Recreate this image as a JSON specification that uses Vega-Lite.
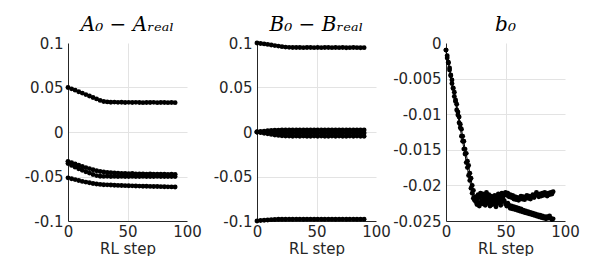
{
"$schema":"https://vega.github.io/schema/vega-lite/v6.json",
"padding":{"left":18,"top":15,"right":0,"bottom":0},
"spacing":70,
"bounds":"flush",
"config":{
 "view":{"stroke":null},
 "axis":{"labelFont":"DejaVu Sans","labelFontSize":15,"labelColor":"#262626","titleFont":"DejaVu Sans","titleFontSize":15,"titleFontWeight":"normal","titleColor":"#262626","domainColor":"#262626","ticks":false,"gridColor":"#e3e3e3","labelOverlap":false,"labelFlush":false,"labelBound":false},
 "axisX":{"labelPadding":3,"titlePadding":2},
 "axisY":{"labelPadding":5,"minExtent":50,"maxExtent":50},
 "title":{"font":"DejaVu Serif","fontStyle":"italic","fontSize":20,"fontWeight":"normal","color":"black","offset":1,"frame":"group","anchor":"middle"}
},
"datasets":{
"A":[
{"k":1,"x":0,"y":0.05},{"k":1,"x":3,"y":0.0485},{"k":1,"x":6,"y":0.047},{"k":1,"x":9,"y":0.0453},{"k":1,"x":12,"y":0.0437},{"k":1,"x":15,"y":0.042},{"k":1,"x":18,"y":0.0405},{"k":1,"x":21,"y":0.0388},{"k":1,"x":24,"y":0.0372},{"k":1,"x":27,"y":0.0355},{"k":1,"x":30,"y":0.0342},{"k":1,"x":33,"y":0.0338},{"k":1,"x":36,"y":0.0335},{"k":1,"x":39,"y":0.0336},{"k":1,"x":42,"y":0.0333},{"k":1,"x":45,"y":0.0334},{"k":1,"x":48,"y":0.0332},{"k":1,"x":51,"y":0.0333},{"k":1,"x":54,"y":0.0331},{"k":1,"x":57,"y":0.0333},{"k":1,"x":60,"y":0.0332},{"k":1,"x":63,"y":0.033},{"k":1,"x":66,"y":0.0332},{"k":1,"x":69,"y":0.0331},{"k":1,"x":72,"y":0.0333},{"k":1,"x":75,"y":0.033},{"k":1,"x":78,"y":0.0331},{"k":1,"x":81,"y":0.0332},{"k":1,"x":84,"y":0.033},{"k":1,"x":87,"y":0.0331},{"k":1,"x":90,"y":0.033},
{"k":2,"x":0,"y":-0.033},{"k":2,"x":3,"y":-0.0345},{"k":2,"x":6,"y":-0.036},{"k":2,"x":9,"y":-0.0373},{"k":2,"x":12,"y":-0.0387},{"k":2,"x":15,"y":-0.04},{"k":2,"x":18,"y":-0.0412},{"k":2,"x":21,"y":-0.0424},{"k":2,"x":24,"y":-0.0435},{"k":2,"x":27,"y":-0.0444},{"k":2,"x":30,"y":-0.045},{"k":2,"x":33,"y":-0.0455},{"k":2,"x":36,"y":-0.0458},{"k":2,"x":39,"y":-0.046},{"k":2,"x":42,"y":-0.0462},{"k":2,"x":45,"y":-0.0465},{"k":2,"x":48,"y":-0.0466},{"k":2,"x":51,"y":-0.0468},{"k":2,"x":54,"y":-0.0467},{"k":2,"x":57,"y":-0.047},{"k":2,"x":60,"y":-0.0471},{"k":2,"x":63,"y":-0.047},{"k":2,"x":66,"y":-0.0473},{"k":2,"x":69,"y":-0.0472},{"k":2,"x":72,"y":-0.0474},{"k":2,"x":75,"y":-0.0473},{"k":2,"x":78,"y":-0.0475},{"k":2,"x":81,"y":-0.0474},{"k":2,"x":84,"y":-0.0476},{"k":2,"x":87,"y":-0.0475},{"k":2,"x":90,"y":-0.0476},
{"k":3,"x":0,"y":-0.0355},{"k":3,"x":3,"y":-0.0375},{"k":3,"x":6,"y":-0.0395},{"k":3,"x":9,"y":-0.0413},{"k":3,"x":12,"y":-0.043},{"k":3,"x":15,"y":-0.0447},{"k":3,"x":18,"y":-0.0462},{"k":3,"x":21,"y":-0.0477},{"k":3,"x":24,"y":-0.049},{"k":3,"x":27,"y":-0.0497},{"k":3,"x":30,"y":-0.0499},{"k":3,"x":33,"y":-0.0498},{"k":3,"x":36,"y":-0.05},{"k":3,"x":39,"y":-0.0499},{"k":3,"x":42,"y":-0.0501},{"k":3,"x":45,"y":-0.0499},{"k":3,"x":48,"y":-0.05},{"k":3,"x":51,"y":-0.0501},{"k":3,"x":54,"y":-0.0499},{"k":3,"x":57,"y":-0.05},{"k":3,"x":60,"y":-0.0501},{"k":3,"x":63,"y":-0.0499},{"k":3,"x":66,"y":-0.05},{"k":3,"x":69,"y":-0.0501},{"k":3,"x":72,"y":-0.05},{"k":3,"x":75,"y":-0.0499},{"k":3,"x":78,"y":-0.0501},{"k":3,"x":81,"y":-0.05},{"k":3,"x":84,"y":-0.0501},{"k":3,"x":87,"y":-0.05},{"k":3,"x":90,"y":-0.0501},
{"k":4,"x":0,"y":-0.0515},{"k":4,"x":3,"y":-0.0525},{"k":4,"x":6,"y":-0.0535},{"k":4,"x":9,"y":-0.0545},{"k":4,"x":12,"y":-0.0555},{"k":4,"x":15,"y":-0.0563},{"k":4,"x":18,"y":-0.057},{"k":4,"x":21,"y":-0.0578},{"k":4,"x":24,"y":-0.0585},{"k":4,"x":27,"y":-0.0589},{"k":4,"x":30,"y":-0.0592},{"k":4,"x":33,"y":-0.0594},{"k":4,"x":36,"y":-0.0596},{"k":4,"x":39,"y":-0.0598},{"k":4,"x":42,"y":-0.06},{"k":4,"x":45,"y":-0.0601},{"k":4,"x":48,"y":-0.0603},{"k":4,"x":51,"y":-0.0604},{"k":4,"x":54,"y":-0.0605},{"k":4,"x":57,"y":-0.0607},{"k":4,"x":60,"y":-0.0608},{"k":4,"x":63,"y":-0.0609},{"k":4,"x":66,"y":-0.061},{"k":4,"x":69,"y":-0.0611},{"k":4,"x":72,"y":-0.0612},{"k":4,"x":75,"y":-0.0613},{"k":4,"x":78,"y":-0.0614},{"k":4,"x":81,"y":-0.0615},{"k":4,"x":84,"y":-0.0616},{"k":4,"x":87,"y":-0.0617},{"k":4,"x":90,"y":-0.0618}
],
"B":[
{"k":1,"x":0,"y":0.1},{"k":1,"x":3,"y":0.0995},{"k":1,"x":6,"y":0.099},{"k":1,"x":9,"y":0.0984},{"k":1,"x":12,"y":0.0978},{"k":1,"x":15,"y":0.0971},{"k":1,"x":18,"y":0.0965},{"k":1,"x":21,"y":0.0959},{"k":1,"x":24,"y":0.0954},{"k":1,"x":27,"y":0.0951},{"k":1,"x":30,"y":0.095},{"k":1,"x":33,"y":0.0949},{"k":1,"x":36,"y":0.095},{"k":1,"x":39,"y":0.0948},{"k":1,"x":42,"y":0.0949},{"k":1,"x":45,"y":0.095},{"k":1,"x":48,"y":0.0948},{"k":1,"x":51,"y":0.0949},{"k":1,"x":54,"y":0.0948},{"k":1,"x":57,"y":0.095},{"k":1,"x":60,"y":0.0949},{"k":1,"x":63,"y":0.0948},{"k":1,"x":66,"y":0.0949},{"k":1,"x":69,"y":0.0948},{"k":1,"x":72,"y":0.0949},{"k":1,"x":75,"y":0.0947},{"k":1,"x":78,"y":0.0948},{"k":1,"x":81,"y":0.0949},{"k":1,"x":84,"y":0.0948},{"k":1,"x":87,"y":0.0947},{"k":1,"x":90,"y":0.0948},
{"k":2,"x":0,"y":0},{"k":2,"x":3,"y":0.0005},{"k":2,"x":6,"y":0.001},{"k":2,"x":9,"y":0.0014},{"k":2,"x":12,"y":0.0017},{"k":2,"x":15,"y":0.002},{"k":2,"x":18,"y":0.0021},{"k":2,"x":21,"y":0.0022},{"k":2,"x":24,"y":0.0022},{"k":2,"x":27,"y":0.0023},{"k":2,"x":30,"y":0.0022},{"k":2,"x":33,"y":0.0022},{"k":2,"x":36,"y":0.0023},{"k":2,"x":39,"y":0.0022},{"k":2,"x":42,"y":0.0023},{"k":2,"x":45,"y":0.0022},{"k":2,"x":48,"y":0.0022},{"k":2,"x":51,"y":0.0023},{"k":2,"x":54,"y":0.0022},{"k":2,"x":57,"y":0.0022},{"k":2,"x":60,"y":0.0023},{"k":2,"x":63,"y":0.0022},{"k":2,"x":66,"y":0.0023},{"k":2,"x":69,"y":0.0022},{"k":2,"x":72,"y":0.0022},{"k":2,"x":75,"y":0.0023},{"k":2,"x":78,"y":0.0022},{"k":2,"x":81,"y":0.0023},{"k":2,"x":84,"y":0.0022},{"k":2,"x":87,"y":0.0022},{"k":2,"x":90,"y":0.0023},
{"k":3,"x":0,"y":0},{"k":3,"x":3,"y":-0.0003},{"k":3,"x":6,"y":-0.0005},{"k":3,"x":9,"y":-0.0007},{"k":3,"x":12,"y":-0.0008},{"k":3,"x":15,"y":-0.0009},{"k":3,"x":18,"y":-0.001},{"k":3,"x":21,"y":-0.001},{"k":3,"x":24,"y":-0.0011},{"k":3,"x":27,"y":-0.001},{"k":3,"x":30,"y":-0.001},{"k":3,"x":33,"y":-0.0011},{"k":3,"x":36,"y":-0.001},{"k":3,"x":39,"y":-0.001},{"k":3,"x":42,"y":-0.0011},{"k":3,"x":45,"y":-0.001},{"k":3,"x":48,"y":-0.001},{"k":3,"x":51,"y":-0.0011},{"k":3,"x":54,"y":-0.001},{"k":3,"x":57,"y":-0.001},{"k":3,"x":60,"y":-0.0011},{"k":3,"x":63,"y":-0.001},{"k":3,"x":66,"y":-0.001},{"k":3,"x":69,"y":-0.0011},{"k":3,"x":72,"y":-0.001},{"k":3,"x":75,"y":-0.001},{"k":3,"x":78,"y":-0.0011},{"k":3,"x":81,"y":-0.001},{"k":3,"x":84,"y":-0.001},{"k":3,"x":87,"y":-0.0011},{"k":3,"x":90,"y":-0.001},
{"k":4,"x":0,"y":0},{"k":4,"x":3,"y":-0.0007},{"k":4,"x":6,"y":-0.0014},{"k":4,"x":9,"y":-0.002},{"k":4,"x":12,"y":-0.0027},{"k":4,"x":15,"y":-0.0033},{"k":4,"x":18,"y":-0.0038},{"k":4,"x":21,"y":-0.0042},{"k":4,"x":24,"y":-0.0045},{"k":4,"x":27,"y":-0.0046},{"k":4,"x":30,"y":-0.0047},{"k":4,"x":33,"y":-0.0046},{"k":4,"x":36,"y":-0.0047},{"k":4,"x":39,"y":-0.0046},{"k":4,"x":42,"y":-0.0047},{"k":4,"x":45,"y":-0.0047},{"k":4,"x":48,"y":-0.0046},{"k":4,"x":51,"y":-0.0047},{"k":4,"x":54,"y":-0.0046},{"k":4,"x":57,"y":-0.0047},{"k":4,"x":60,"y":-0.0047},{"k":4,"x":63,"y":-0.0046},{"k":4,"x":66,"y":-0.0047},{"k":4,"x":69,"y":-0.0046},{"k":4,"x":72,"y":-0.0047},{"k":4,"x":75,"y":-0.0047},{"k":4,"x":78,"y":-0.0046},{"k":4,"x":81,"y":-0.0047},{"k":4,"x":84,"y":-0.0046},{"k":4,"x":87,"y":-0.0047},{"k":4,"x":90,"y":-0.0047},
{"k":5,"x":0,"y":-0.1},{"k":5,"x":3,"y":-0.0995},{"k":5,"x":6,"y":-0.0991},{"k":5,"x":9,"y":-0.0988},{"k":5,"x":12,"y":-0.0985},{"k":5,"x":15,"y":-0.0983},{"k":5,"x":18,"y":-0.0981},{"k":5,"x":21,"y":-0.098},{"k":5,"x":24,"y":-0.098},{"k":5,"x":27,"y":-0.0979},{"k":5,"x":30,"y":-0.098},{"k":5,"x":33,"y":-0.0979},{"k":5,"x":36,"y":-0.0979},{"k":5,"x":39,"y":-0.098},{"k":5,"x":42,"y":-0.0979},{"k":5,"x":45,"y":-0.0979},{"k":5,"x":48,"y":-0.098},{"k":5,"x":51,"y":-0.0979},{"k":5,"x":54,"y":-0.0979},{"k":5,"x":57,"y":-0.098},{"k":5,"x":60,"y":-0.0979},{"k":5,"x":63,"y":-0.0979},{"k":5,"x":66,"y":-0.098},{"k":5,"x":69,"y":-0.0979},{"k":5,"x":72,"y":-0.0979},{"k":5,"x":75,"y":-0.098},{"k":5,"x":78,"y":-0.0979},{"k":5,"x":81,"y":-0.0979},{"k":5,"x":84,"y":-0.098},{"k":5,"x":87,"y":-0.0979},{"k":5,"x":90,"y":-0.0979}
],
"b":[
{"k":1,"x":0,"y":-0.001},{"k":1,"x":1,"y":-0.0021},{"k":1,"x":2,"y":-0.0027},{"k":1,"x":3,"y":-0.0038},{"k":1,"x":4,"y":-0.0046},{"k":1,"x":5,"y":-0.0057},{"k":1,"x":6,"y":-0.0064},{"k":1,"x":7,"y":-0.0075},{"k":1,"x":8,"y":-0.0082},{"k":1,"x":9,"y":-0.0094},{"k":1,"x":10,"y":-0.0101},{"k":1,"x":11,"y":-0.0112},{"k":1,"x":12,"y":-0.0119},{"k":1,"x":13,"y":-0.0131},{"k":1,"x":14,"y":-0.0138},{"k":1,"x":15,"y":-0.0149},{"k":1,"x":16,"y":-0.0156},{"k":1,"x":17,"y":-0.0168},{"k":1,"x":18,"y":-0.0175},{"k":1,"x":19,"y":-0.0186},{"k":1,"x":20,"y":-0.0193},{"k":1,"x":21,"y":-0.0204},{"k":1,"x":22,"y":-0.0211},{"k":1,"x":23,"y":-0.0218},{"k":1,"x":24,"y":-0.0221},{"k":1,"x":25,"y":-0.0216},{"k":1,"x":26,"y":-0.0219},{"k":1,"x":27,"y":-0.0213},{"k":1,"x":28,"y":-0.0217},{"k":1,"x":29,"y":-0.0211},{"k":1,"x":30,"y":-0.0215},{"k":1,"x":31,"y":-0.0212},{"k":1,"x":32,"y":-0.0218},{"k":1,"x":33,"y":-0.0214},{"k":1,"x":34,"y":-0.021},{"k":1,"x":35,"y":-0.0216},{"k":1,"x":36,"y":-0.0213},{"k":1,"x":37,"y":-0.0219},{"k":1,"x":38,"y":-0.0215},{"k":1,"x":39,"y":-0.0221},{"k":1,"x":40,"y":-0.0217},{"k":1,"x":41,"y":-0.0214},{"k":1,"x":42,"y":-0.022},{"k":1,"x":43,"y":-0.0216},{"k":1,"x":44,"y":-0.0212},{"k":1,"x":45,"y":-0.0218},{"k":1,"x":46,"y":-0.0214},{"k":1,"x":47,"y":-0.0211},{"k":1,"x":48,"y":-0.0215},{"k":1,"x":49,"y":-0.0212},{"k":1,"x":50,"y":-0.021},{"k":1,"x":51,"y":-0.0214},{"k":1,"x":52,"y":-0.0211},{"k":1,"x":53,"y":-0.0216},{"k":1,"x":54,"y":-0.0213},{"k":1,"x":55,"y":-0.0217},{"k":1,"x":56,"y":-0.0214},{"k":1,"x":57,"y":-0.0219},{"k":1,"x":58,"y":-0.0216},{"k":1,"x":59,"y":-0.022},{"k":1,"x":60,"y":-0.0217},{"k":1,"x":61,"y":-0.0221},{"k":1,"x":62,"y":-0.0218},{"k":1,"x":63,"y":-0.0215},{"k":1,"x":64,"y":-0.0219},{"k":1,"x":65,"y":-0.0216},{"k":1,"x":66,"y":-0.022},{"k":1,"x":67,"y":-0.0217},{"k":1,"x":68,"y":-0.0214},{"k":1,"x":69,"y":-0.0218},{"k":1,"x":70,"y":-0.0215},{"k":1,"x":71,"y":-0.0219},{"k":1,"x":72,"y":-0.0216},{"k":1,"x":73,"y":-0.0213},{"k":1,"x":74,"y":-0.0217},{"k":1,"x":75,"y":-0.0214},{"k":1,"x":76,"y":-0.021},{"k":1,"x":77,"y":-0.0213},{"k":1,"x":78,"y":-0.0216},{"k":1,"x":79,"y":-0.0212},{"k":1,"x":80,"y":-0.0215},{"k":1,"x":81,"y":-0.0211},{"k":1,"x":82,"y":-0.0214},{"k":1,"x":83,"y":-0.021},{"k":1,"x":84,"y":-0.0213},{"k":1,"x":85,"y":-0.0215},{"k":1,"x":86,"y":-0.0211},{"k":1,"x":87,"y":-0.0213},{"k":1,"x":88,"y":-0.021},{"k":1,"x":89,"y":-0.0212},{"k":1,"x":90,"y":-0.0209},
{"k":2,"x":0,"y":-0.001},{"k":2,"x":1,"y":-0.0018},{"k":2,"x":2,"y":-0.0028},{"k":2,"x":3,"y":-0.0035},{"k":2,"x":4,"y":-0.0045},{"k":2,"x":5,"y":-0.0052},{"k":2,"x":6,"y":-0.0063},{"k":2,"x":7,"y":-0.0069},{"k":2,"x":8,"y":-0.008},{"k":2,"x":9,"y":-0.0086},{"k":2,"x":10,"y":-0.0097},{"k":2,"x":11,"y":-0.0104},{"k":2,"x":12,"y":-0.0114},{"k":2,"x":13,"y":-0.0121},{"k":2,"x":14,"y":-0.0131},{"k":2,"x":15,"y":-0.0138},{"k":2,"x":16,"y":-0.0149},{"k":2,"x":17,"y":-0.0155},{"k":2,"x":18,"y":-0.0166},{"k":2,"x":19,"y":-0.0172},{"k":2,"x":20,"y":-0.0183},{"k":2,"x":21,"y":-0.019},{"k":2,"x":22,"y":-0.02},{"k":2,"x":23,"y":-0.0207},{"k":2,"x":24,"y":-0.0217},{"k":2,"x":25,"y":-0.0223},{"k":2,"x":26,"y":-0.0227},{"k":2,"x":27,"y":-0.0224},{"k":2,"x":28,"y":-0.0229},{"k":2,"x":29,"y":-0.0225},{"k":2,"x":30,"y":-0.0221},{"k":2,"x":31,"y":-0.0226},{"k":2,"x":32,"y":-0.0222},{"k":2,"x":33,"y":-0.0228},{"k":2,"x":34,"y":-0.0224},{"k":2,"x":35,"y":-0.022},{"k":2,"x":36,"y":-0.0225},{"k":2,"x":37,"y":-0.0229},{"k":2,"x":38,"y":-0.0223},{"k":2,"x":39,"y":-0.0227},{"k":2,"x":40,"y":-0.0222},{"k":2,"x":41,"y":-0.0226},{"k":2,"x":42,"y":-0.023},{"k":2,"x":43,"y":-0.0225},{"k":2,"x":44,"y":-0.0221},{"k":2,"x":45,"y":-0.0224},{"k":2,"x":46,"y":-0.0228},{"k":2,"x":47,"y":-0.0223},{"k":2,"x":48,"y":-0.0219},{"k":2,"x":49,"y":-0.0222},{"k":2,"x":50,"y":-0.0226},{"k":2,"x":51,"y":-0.0229},{"k":2,"x":52,"y":-0.0225},{"k":2,"x":53,"y":-0.0228},{"k":2,"x":54,"y":-0.0232},{"k":2,"x":55,"y":-0.0229},{"k":2,"x":56,"y":-0.0233},{"k":2,"x":57,"y":-0.023},{"k":2,"x":58,"y":-0.0234},{"k":2,"x":59,"y":-0.0231},{"k":2,"x":60,"y":-0.0235},{"k":2,"x":61,"y":-0.0232},{"k":2,"x":62,"y":-0.0236},{"k":2,"x":63,"y":-0.0233},{"k":2,"x":64,"y":-0.0237},{"k":2,"x":65,"y":-0.0235},{"k":2,"x":66,"y":-0.0238},{"k":2,"x":67,"y":-0.0236},{"k":2,"x":68,"y":-0.0239},{"k":2,"x":69,"y":-0.0237},{"k":2,"x":70,"y":-0.024},{"k":2,"x":71,"y":-0.0238},{"k":2,"x":72,"y":-0.0241},{"k":2,"x":73,"y":-0.0239},{"k":2,"x":74,"y":-0.0242},{"k":2,"x":75,"y":-0.024},{"k":2,"x":76,"y":-0.0243},{"k":2,"x":77,"y":-0.0241},{"k":2,"x":78,"y":-0.0244},{"k":2,"x":79,"y":-0.0242},{"k":2,"x":80,"y":-0.0245},{"k":2,"x":81,"y":-0.0243},{"k":2,"x":82,"y":-0.0246},{"k":2,"x":83,"y":-0.0244},{"k":2,"x":84,"y":-0.0247},{"k":2,"x":85,"y":-0.0244},{"k":2,"x":86,"y":-0.0246},{"k":2,"x":87,"y":-0.0243},{"k":2,"x":88,"y":-0.0246},{"k":2,"x":89,"y":-0.0248},{"k":2,"x":90,"y":-0.0247}
]
},
"hconcat":[
{
 "width":119,"height":178,
 "title":{"text":"A₀ − Aᵣₑₐₗ"},
 "data":{"name":"A"},
 "mark":{"type":"line","color":"black","strokeWidth":1,"point":{"filled":true,"size":24,"color":"black"}},
 "encoding":{
  "x":{"field":"x","type":"quantitative","scale":{"domain":[0,100]},"axis":{"values":[0,50,100],"title":"RL step","gridOpacity":{"condition":{"test":"datum.value >= 100 || datum.value <= 0","value":0},"value":1}}},
  "y":{"field":"y","type":"quantitative","scale":{"domain":[-0.1,0.1]},"axis":{"values":[-0.1,-0.05,0,0.05,0.1],"title":null,"labelExpr":"toString(datum.value)","gridOpacity":{"condition":{"test":"datum.value >= 0.1 || datum.value <= -0.1","value":0},"value":1}}},
  "detail":{"field":"k"}
 }
},
{
 "width":119,"height":178,
 "title":{"text":"B₀ − Bᵣₑₐₗ"},
 "data":{"name":"B"},
 "mark":{"type":"line","color":"black","strokeWidth":1,"point":{"filled":true,"size":24,"color":"black"}},
 "encoding":{
  "x":{"field":"x","type":"quantitative","scale":{"domain":[0,100]},"axis":{"values":[0,50,100],"title":"RL step","gridOpacity":{"condition":{"test":"datum.value >= 100 || datum.value <= 0","value":0},"value":1}}},
  "y":{"field":"y","type":"quantitative","scale":{"domain":[-0.1,0.1]},"axis":{"values":[-0.1,-0.05,0,0.05,0.1],"title":null,"labelExpr":"toString(datum.value)","gridOpacity":{"condition":{"test":"datum.value >= 0.1 || datum.value <= -0.1","value":0},"value":1}}},
  "detail":{"field":"k"}
 }
},
{
 "width":119,"height":178,
 "title":{"text":"b₀"},
 "data":{"name":"b"},
 "mark":{"type":"line","color":"black","strokeWidth":1,"point":{"filled":true,"size":24,"color":"black"}},
 "encoding":{
  "x":{"field":"x","type":"quantitative","scale":{"domain":[0,100]},"axis":{"values":[0,50,100],"title":"RL step","gridOpacity":{"condition":{"test":"datum.value >= 100 || datum.value <= 0","value":0},"value":1}}},
  "y":{"field":"y","type":"quantitative","scale":{"domain":[-0.025,0]},"axis":{"values":[-0.025,-0.02,-0.015,-0.01,-0.005,0],"title":null,"labelExpr":"toString(datum.value)","gridOpacity":{"condition":{"test":"datum.value >= 0 || datum.value <= -0.025","value":0},"value":1}}},
  "detail":{"field":"k"}
 }
}
]
}
